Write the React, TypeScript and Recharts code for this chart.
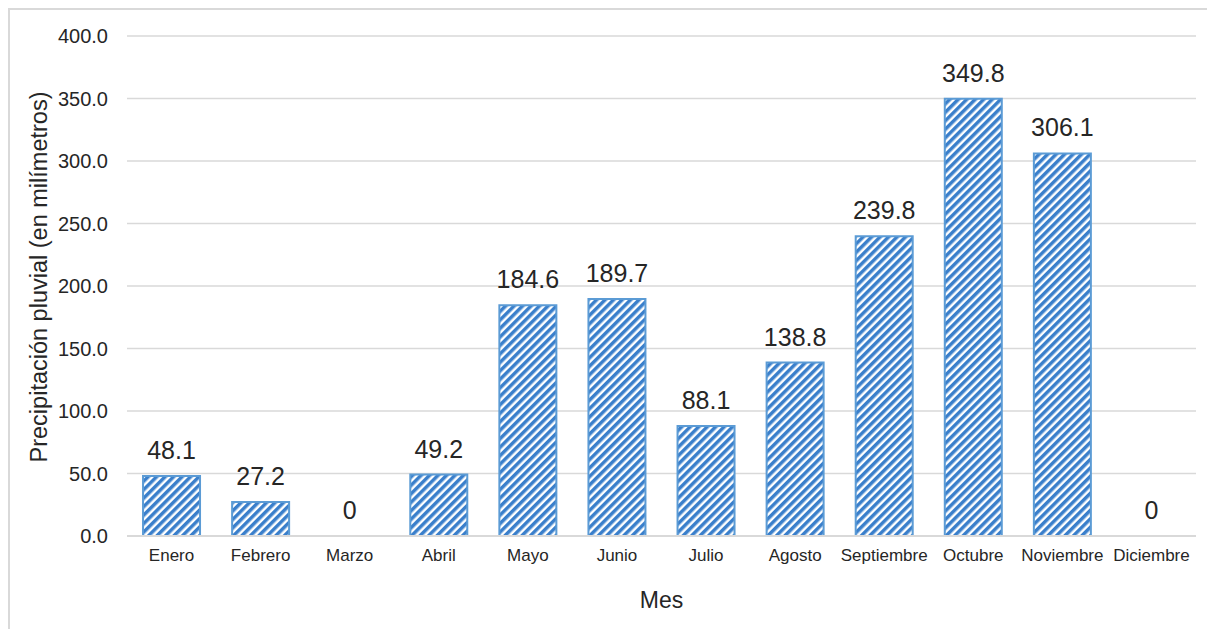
import { Bar, CartesianGrid, ComposedChart, LabelList, Line, XAxis, YAxis } from 'recharts';

// Precipitación pluvial mensual (mm)
const meses = [
  'Enero', 'Febrero', 'Marzo', 'Abril', 'Mayo', 'Junio',
  'Julio', 'Agosto', 'Septiembre', 'Octubre', 'Noviembre', 'Diciembre',
];
const precipitacion = [48.1, 27.2, 0, 49.2, 184.6, 189.7, 88.1, 138.8, 239.8, 349.8, 306.1, 0];
const yTicks = [0, 50, 100, 150, 200, 250, 300, 350, 400];

const data = meses.map((mes, i) => ({ mes, valor: precipitacion[i] }));

const font = '"Liberation Sans", Arial, sans-serif';

// los meses sin lluvia se muestran como "0", el resto con un decimal
const fmt = (v: number) => (v === 0 ? '0' : v.toFixed(1));

// título del eje Y, girado y un poco por encima del centro del área
function TituloY(props: any) {
  const vb = props.viewBox || {};
  const cx = (vb.x ?? 0) + 29;
  const cy = (vb.y ?? 0) + (vb.height ?? 0) / 2 - 9;
  return (
    <text
      x={cx}
      y={cy}
      transform={`rotate(-90 ${cx} ${cy})`}
      textAnchor="middle"
      dominantBaseline="central"
      fontSize={23.5}
      fill="#262626"
      fontFamily={font}
    >
      Precipitación pluvial (en milímetros)
    </text>
  );
}

export default function App() {
  return (
    <div
      style={{
        width: 1207,
        height: 640,
        boxSizing: 'border-box',
        border: '2px solid #d9d9d9',
        fontFamily: font,
      }}
    >
      <ComposedChart
        width={1203}
        height={612}
        data={data}
        margin={{ top: 26, right: 17, left: 0, bottom: 12 }}
        barCategoryGap="18%"
      >
        <defs>
          <pattern
            id="rayas"
            width="6"
            height="6"
            patternUnits="userSpaceOnUse"
            patternTransform="rotate(45)"
          >
            <rect width="6" height="6" fill="#ffffff" />
            <rect width="3.5" height="6" fill="#3a7fcb" />
          </pattern>
        </defs>
        <CartesianGrid stroke="#d9d9d9" strokeWidth={1.5} vertical={false} />
        <XAxis
          dataKey="mes"
          height={74}
          tickLine={false}
          tickSize={0}
          tickMargin={13}
          axisLine={{ stroke: '#d9d9d9', strokeWidth: 2 }}
          tick={{ fontSize: 17, fill: '#262626', fontFamily: font }}
          interval={0}
          label={{
            value: 'Mes',
            position: 'insideBottom',
            offset: 2,
            fontSize: 23,
            fill: '#262626',
            fontFamily: font,
          }}
        />
        <YAxis
          width={117}
          domain={[0, 400]}
          ticks={yTicks}
          axisLine={false}
          tickLine={false}
          tickSize={0}
          tickMargin={19}
          tickFormatter={(v: number) => v.toFixed(1)}
          tick={{ fontSize: 20, fill: '#262626', fontFamily: font }}
          label={{ content: TituloY }}
        />
        <Bar
          dataKey="valor"
          fill="url(#rayas)"
          stroke="#5b9bd5"
          strokeWidth={2}
          isAnimationActive={false}
        />
        {/* línea invisible: solo sirve para poner las etiquetas, también en los meses con 0 */}
        <Line
          dataKey="valor"
          stroke="none"
          dot={false}
          activeDot={false}
          isAnimationActive={false}
        >
          <LabelList
            dataKey="valor"
            position="top"
            offset={17}
            formatter={fmt}
            style={{ fontSize: 25, fill: '#262626', fontFamily: font }}
          />
        </Line>
      </ComposedChart>
    </div>
  );
}
